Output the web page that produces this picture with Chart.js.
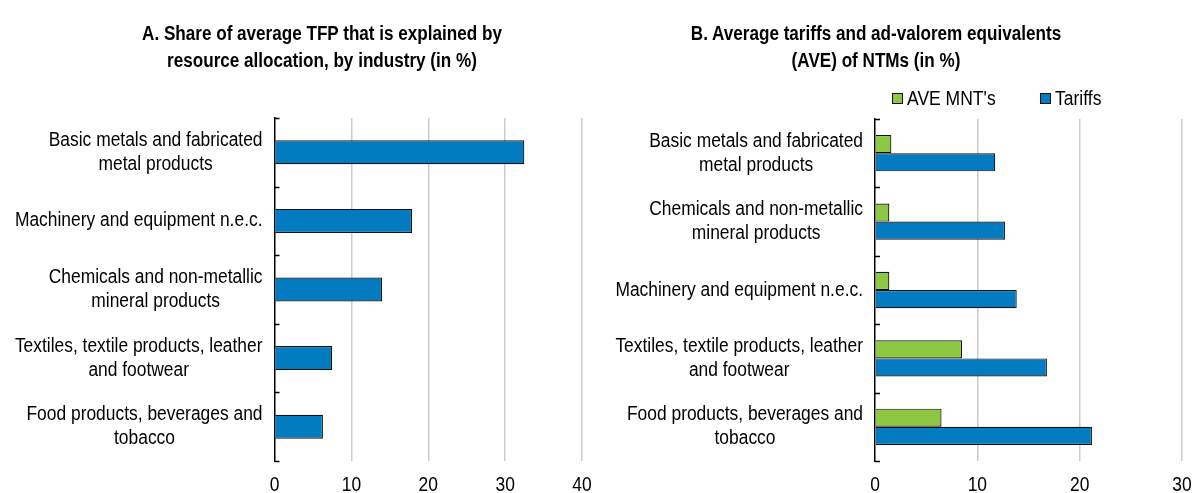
<!DOCTYPE html>
<html>
<head>
<meta charset="utf-8">
<script src="https://cdn.jsdelivr.net/npm/chart.js@4"></script>
<style>
  body { margin: 0; background: #fff; }
  #wrap { position: relative; width: 1193px; height: 493px; overflow: hidden;
          font-family: "Liberation Sans", Arial, sans-serif; }
  #boxA { position: absolute; left: 0; top: 0; width: 600px; height: 493px; }
  #boxB { position: absolute; left: 600px; top: 0; width: 593px; height: 493px; }
  /* reference text is a narrow face: squeeze Liberation Sans horizontally */
  .ttl { position: absolute; top: 19.5px; width: 600px; text-align: center; font-weight: bold;
         font-size: 20px; line-height: 27px; color: #000; white-space: nowrap;
         transform: scaleX(0.855); transform-origin: 50% 0; }
  .leg { position: absolute; top: 86px; height: 24px; font-size: 20px; color: #000; white-space: nowrap; line-height: 24px; }
  .leg .sw { position: absolute; left: 0; top: 7px; width: 9px; height: 9px; border: 1px solid #111; }
  .leg .tx { position: absolute; left: 15px; top: 0; transform: scaleX(0.876); transform-origin: 0 0; }
</style>
</head>
<body>
<div id="wrap">
  <div id="boxA"><canvas id="chartA"></canvas></div>
  <div id="boxB"><canvas id="chartB"></canvas></div>
  <div class="ttl" style="left:22px">A. Share of average TFP that is explained by<br>resource allocation, by industry (in %)</div>
  <div class="ttl" style="left:576px">B. Average tariffs and ad-valorem equivalents<br>(AVE) of NTMs (in %)</div>
  <div id="legB"></div>
</div>
<script>
// Panel A
var labelsA = [
  ["Basic metals and fabricated", "metal products"],
  ["Machinery and equipment n.e.c."],
  ["Chemicals and non-metallic", "mineral products"],
  ["Textiles, textile products, leather", "and footwear"],
  ["Food products, beverages and", "tobacco"]
];
var shareTFP = [32.5, 17.9, 14.0, 7.5, 6.3];
var ticksA = [0, 10, 20, 30, 40];

// Panel B
var labelsB = [
  ["Basic metals and fabricated", "metal products"],
  ["Chemicals and non-metallic", "mineral products"],
  ["Machinery and equipment n.e.c."],
  ["Textiles, textile products, leather", "and footwear"],
  ["Food products, beverages and", "tobacco"]
];
var aveNTM = [1.6, 1.4, 1.4, 8.5, 6.5];
var tariffs = [11.75, 12.7, 13.85, 16.8, 21.2];
var ticksB = [0, 10, 20, 30];

var blue = "#037BC1";
var green = "#8CC841";
var FONT = "'Liberation Sans', Arial, sans-serif";
var SQ = 0.87; // horizontal squeeze for text

function squeezedText(ctx, txt, x, y) {
  ctx.save();
  ctx.translate(x, y);
  ctx.scale(SQ, 1);
  ctx.fillText(txt, 0, 0);
  ctx.restore();
}

// category labels (centred line by line, block right aligned) + axis text
var axisText = {
  id: "axisText",
  afterDraw: function(chart) {
    var ctx = chart.ctx;
    var ys = chart.scales.y;
    var xs = chart.scales.x;
    var labs = chart.data.labels;
    var right = ys.right - 12;
    ctx.save();
    ctx.font = "20px " + FONT;
    ctx.fillStyle = "#000";
    ctx.textAlign = "center";
    ctx.textBaseline = "middle";
    for (var i = 0; i < labs.length; i++) {
      var lines = labs[i];
      var w = 0;
      lines.forEach(function(l){ w = Math.max(w, ctx.measureText(l).width * SQ); });
      var cx = right - w / 2;
      var y0 = ys.getPixelForValue(i) - (lines.length - 1) * 24 / 2;
      for (var j = 0; j < lines.length; j++) {
        squeezedText(ctx, lines[j], cx, y0 + j * 24);
      }
    }
    // x tick numbers
    xs.ticks.forEach(function(t) {
      squeezedText(ctx, String(t.value), xs.getPixelForValue(t.value), xs.top + 24);
    });
    // little tick marks on the axis, between categories
    ctx.strokeStyle = "#000";
    ctx.lineWidth = 1.5;
    for (var k = 0; k <= labs.length; k++) {
      var ty = Math.round(ys.getPixelForValue(k - 0.5)) + 0.5;
      ctx.beginPath();
      ctx.moveTo(ys.right, ty);
      ctx.lineTo(ys.right + 5, ty);
      ctx.stroke();
    }
    ctx.restore();
  }
};

function makeOpts(maxX, yWidth, padTop, padRight, tickVals) {
  return {
    indexAxis: "y",
    responsive: true,
    maintainAspectRatio: false,
    animation: false,
    layout: { padding: { left: 0, right: padRight, top: padTop, bottom: 0 } },
    plugins: {
      legend: { display: false },
      tooltip: { enabled: false }
    },
    scales: {
      x: {
        min: 0, max: maxX,
        afterBuildTicks: function(s) { s.ticks = tickVals.map(function(v){ return { value: v }; }); },
        afterFit: function(s) { s.height = 32; },
        grid: {
          drawTicks: false,
          lineWidth: 1.5,
          color: function(c) { return c.tick && c.tick.value === 0 ? "rgba(0,0,0,0)" : "#cccccc"; }
        },
        border: { display: false },
        ticks: { display: false }
      },
      y: {
        afterFit: function(s) { s.width = yWidth; },
        grid: { display: false, drawTicks: false },
        border: { display: true, color: "#000", width: 1.5 },
        ticks: { display: false }
      }
    }
  };
}

new Chart(document.getElementById("chartA"), {
  type: "bar",
  data: {
    labels: labelsA,
    datasets: [{
      label: "Share of TFP",
      data: shareTFP,
      backgroundColor: blue,
      borderColor: "#111",
      borderWidth: 1.2,
      categoryPercentage: 0.7,
      barPercentage: 0.5
    }]
  },
  options: makeOpts(40, 274.5, 118, 18, ticksA),
  plugins: [axisText]
});

var dsB = [
  { label: "AVE MNT's", data: aveNTM, color: green },
  { label: "Tariffs", data: tariffs, color: blue }
];

new Chart(document.getElementById("chartB"), {
  type: "bar",
  data: {
    labels: labelsB,
    datasets: dsB.map(function(d) {
      return {
        label: d.label,
        data: d.data,
        backgroundColor: d.color,
        borderColor: "#111",
        borderWidth: 1.2,
        categoryPercentage: 0.53,
        barPercentage: 1.0
      };
    })
  },
  options: makeOpts(30, 275, 119, 11, ticksB),
  plugins: [axisText]
});

// legend for panel B
var legLeft = [892, 1040];
var leg = document.getElementById("legB");
dsB.forEach(function(d, i) {
  var el = document.createElement("div");
  el.className = "leg";
  el.style.left = legLeft[i] + "px";
  el.innerHTML = '<span class="sw" style="background:' + d.color + '"></span><span class="tx">' + d.label + '</span>';
  leg.appendChild(el);
});
</script>
</body>
</html>
